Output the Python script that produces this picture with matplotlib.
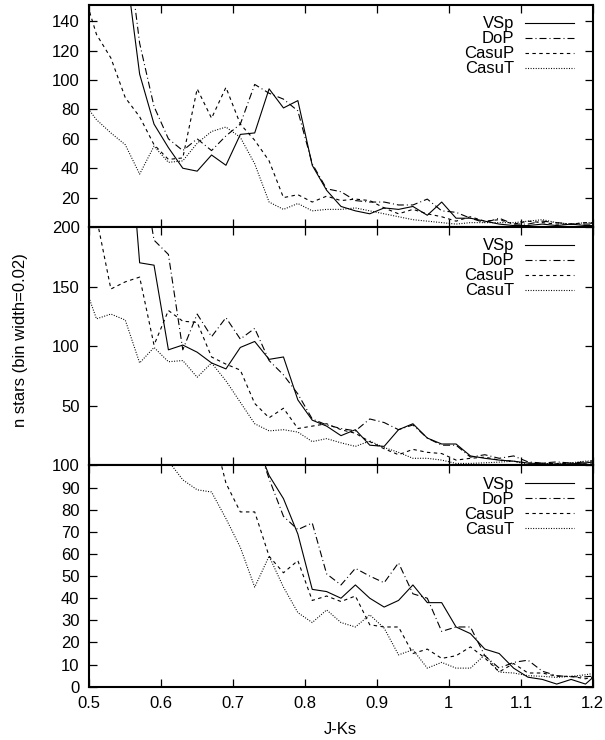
import numpy as np
import matplotlib
matplotlib.use("Agg")
import matplotlib.pyplot as plt

plt.rcParams['font.family'] = ['Liberation Sans', 'DejaVu Sans']

# bin centres (bin width 0.02)
jks = np.round(np.arange(0.49, 1.2101, 0.02), 2)

# ---- top panel ----
vsp_1 = [260, 240, 215, 180, 104, 70, 54, 40, 38, 49, 42, 63, 64, 94, 81, 86, 42, 25, 14, 11,
         9, 13, 12, 14, 8, 17, 6, 6, 4, 2, 1, 1, 2, 1, 2, 1, 1]
dop_1 = [320, 300, 260, 203, 125, 82, 60, 52, 60, 52, 62, 70, 97, 91, 87, 79, 43, 26, 24, 18,
         17, 17, 15, 15, 19, 11, 10, 6, 3, 6, 2, 2, 4, 3, 2, 2, 2]
casup_1 = [163, 131, 115, 88, 75, 56, 46, 47, 94, 74, 95, 70, 59, 45, 20, 22, 17, 21, 18, 19,
           18, 13, 9, 12, 9, 7, 4, 7, 4, 5, 2, 4, 3, 2, 2, 3, 2]
casut_1 = [86, 73, 64, 56, 36, 55, 44, 45, 57, 65, 68, 61, 43, 17, 12, 16, 11, 12, 12, 13,
           11, 9, 7, 5, 4, 3, 2, 3, 3, 3, 3, 4, 5, 3, 2, 3, 3]

# ---- middle panel ----
vsp_2 = [400, 380, 350, 320, 170, 168, 97, 101, 95, 86, 81, 99, 104, 89, 91, 55, 38, 33, 25, 30,
         17, 16, 30, 35, 23, 18, 18, 8, 6, 4.5, 3.6, 2, 1.4, 1, 1.4, 2, 4]
dop_2 = [400, 380, 350, 300, 262, 189, 177, 97, 127, 108, 124, 106, 115, 88, 76, 60, 39, 34, 31, 29,
         39, 36, 30, 34, 23, 17, 17, 7, 9, 6, 8, 3, 2, 3, 2, 3, 5]
casup_2 = [230, 208, 148, 154, 158, 101, 130, 121, 120, 91, 85, 80, 52, 40, 48, 31, 33, 35, 30, 27,
           20, 14, 9, 13.5, 11, 10, 4.5, 6, 7, 4.5, 3.5, 2, 2, 1.4, 2, 2, 2]
casut_2 = [157, 123, 127, 122, 86, 99, 87, 88, 74, 86, 71, 53, 35, 29, 30, 28, 20, 22.5, 19, 16,
           20.5, 15, 11, 6, 6, 4.5, 1.7, 1.7, 2.2, 2.8, 3.6, 0.8, 1.4, 1.7, 2.2, 3.6, 4]

# ---- bottom panel ----
vsp_3 = [250, 240, 220, 200, 180, 170, 160, 150, 140, 135, 125, 118, 112, 95.5, 85, 69, 44, 43, 40, 46,
         40, 36, 39, 46, 38, 38, 27, 24, 17, 15, 8.4, 4.3, 3.3, 1.2, 3.3, 1.2, 7]
dop_3 = [250, 240, 220, 200, 180, 170, 160, 150, 140, 135, 125, 118, 113, 94, 77, 71, 74, 51, 46, 53.5,
         50, 47, 56, 42, 40, 25, 27, 27, 14, 8.4, 11, 12, 7, 5, 4.5, 4.5, 5]
casup_3 = [220, 210, 200, 190, 180, 170, 160, 150, 135, 118, 92, 79, 79, 59, 51.5, 57, 39, 41, 38.5, 41,
           28, 27, 27, 15, 17, 12.8, 14, 18, 13, 6.7, 10.5, 6.2, 6.2, 4.7, 4.7, 3.6, 5]
casut_3 = [180, 165, 150, 138, 125, 113, 102, 93.5, 89, 88, 76, 63, 45, 59, 45, 33.5, 29, 34.7, 29, 27,
           32.5, 26.5, 14.4, 16.7, 8.4, 11, 8.4, 8.4, 14.4, 6.6, 6.2, 5, 4.7, 4.2, 4.7, 5.4, 6.5]

labels = ["VSp", "DoP", "CasuP", "CasuT"]
panels = [
    dict(series=[vsp_1, dop_1, casup_1, casut_1], ylim=(0, 151), yticks=[20, 40, 60, 80, 100, 120, 140]),
    dict(series=[vsp_2, dop_2, casup_2, casut_2], ylim=(0, 200), yticks=[50, 100, 150, 200]),
    dict(series=[vsp_3, dop_3, casup_3, casut_3], ylim=(0, 100), yticks=list(range(0, 101, 10))),
]
xticks = [0.5, 0.6, 0.7, 0.8, 0.9, 1.0, 1.1, 1.2]
xticklabels = ["0.5", "0.6", "0.7", "0.8", "0.9", "1", "1.1", "1.2"]

LW = 0.8
styles = [
    dict(linestyle='-'),
    dict(linestyle=(0, (6.3, 2.7, 0.9, 2.7))),
    dict(linestyle=(0, (3.1, 3.1))),
    dict(linestyle=(0, (0.9, 1.4))),
]

fig = plt.figure(figsize=(6.05, 7.40), dpi=100)
left, width = 89.3 / 605, (592.7 - 89.3) / 605
rects = [
    (left, 0.6932, width, 0.9932 - 0.6932),
    (left, 0.3710, width, 0.6932 - 0.3710),
    (left, 0.0720, width, 0.3710 - 0.0720),
]

for i, (panel, rect) in enumerate(zip(panels, rects)):
    ax = fig.add_axes(rect)
    for vals, lab, st in zip(panel['series'], labels, styles):
        ax.plot(jks, vals, color='black', lw=LW, label=lab, **st)
    ax.set_xlim(0.5, 1.2)
    ax.set_ylim(*panel['ylim'])
    ax.set_yticks(panel['yticks'])
    ax.set_yticklabels([str(t) for t in panel['yticks']])
    ax.set_xticks(xticks)
    if i == 2:
        ax.set_xticklabels(xticklabels)
    else:
        ax.set_xticklabels([])
    ax.tick_params(direction='in', length=6, width=0.9, top=True, right=True,
                   labelsize=12, pad=7, colors='black')
    for sp in ax.spines.values():
        sp.set_linewidth(1.5)
    ax.legend(loc='upper right', bbox_to_anchor=(0.985, 1.0), frameon=False,
              markerfirst=False, handlelength=2.95, handletextpad=0.65,
              labelspacing=0.0, borderpad=0.18, fontsize=12)

fig.text(21 / 605, 1 - 340 / 740, "n stars (bin width=0.02)", rotation=90,
         ha='center', va='center', fontsize=12)
fig.text(340 / 605, 1 - 730 / 740, "J-Ks", ha='center', va='center', fontsize=12)

fig.savefig("out.png", dpi=100)
